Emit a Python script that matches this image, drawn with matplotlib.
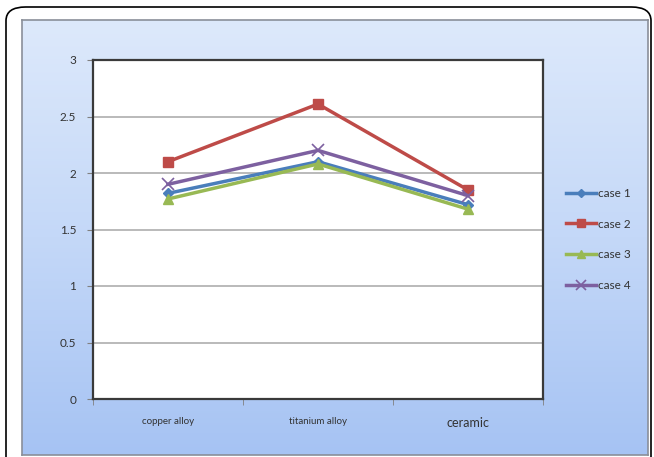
import numpy as np
import matplotlib
matplotlib.use("Agg")
import matplotlib.pyplot as plt
from matplotlib.patches import FancyBboxPatch
from matplotlib.colors import LinearSegmentedColormap

categories = ["copper alloy", "titanium alloy", "ceramic"]
case1 = [1.82, 2.10, 1.72]
case2 = [2.10, 2.61, 1.85]
case3 = [1.77, 2.08, 1.68]
case4 = [1.90, 2.20, 1.80]
series_names = ["case 1", "case 2", "case 3", "case 4"]
y_ticks = [0, 0.5, 1, 1.5, 2, 2.5, 3]
y_tick_labels = ["0", "0.5", "1", "1.5", "2", "2.5", "3"]

plt.rcParams["font.family"] = ["Lato", "DejaVu Sans"]

W, H = 654, 457
fig = plt.figure(figsize=(W / 100, H / 100), dpi=100)
fig.patch.set_facecolor("white")

def fx(px):
    return px / W

def fy(py):
    return 1 - py / H

# rounded outer frame
frame = FancyBboxPatch((fx(6), fy(480)), fx(645), fy(7) - fy(480),
                       boxstyle="round,pad=0,rounding_size=0.03",
                       transform=fig.transFigure, facecolor="white",
                       edgecolor="black", linewidth=1.2, zorder=0)
fig.patches.append(frame)

# gradient chart panel
bg = fig.add_axes([fx(22), fy(455), fx(626), fy(20) - fy(455)], zorder=1)
cmap = LinearSegmentedColormap.from_list("panel", ["#dde9fb", "#c4d8f8", "#a6c3f3"])
grad = np.linspace(0, 1, 256).reshape(-1, 1)
bg.imshow(grad, aspect="auto", cmap=cmap, extent=[0, 1, 1, 0])
bg.set_xlim(0, 1)
bg.set_ylim(1, 0)
bg.set_xticks([])
bg.set_yticks([])
for s in bg.spines.values():
    s.set_color("#8a8f99")
    s.set_linewidth(1.2)

# plot area
ax = fig.add_axes([fx(93), fy(399), fx(450), fy(60) - fy(399)], zorder=2)
ax.set_facecolor("white")
x = np.arange(len(categories)) + 0.5

styles = [
    dict(color="#4a7ebb", marker="D", markersize=5),
    dict(color="#be4b48", marker="s", markersize=7.5),
    dict(color="#98b954", marker="^", markersize=7),
    dict(color="#7d60a0", marker="x", markersize=8, markeredgewidth=1.2),
]
handles = []
for vals, name, st in zip([case1, case2, case3, case4], series_names, styles):
    h, = ax.plot(x, vals, linewidth=2.5, label=name, zorder=3, **st)
    handles.append(h)

ax.set_xlim(0, 3)
ax.set_ylim(0, 3)
ax.set_yticks(y_ticks)
ax.set_yticklabels(y_tick_labels, fontsize=8.5, color="#333333")
ax.set_xticks(x)
ax.set_xticklabels(categories, fontsize=7, color="#333333")
ax.get_xticklabels()[2].set_fontsize(9)
ax.set_xticks([0, 1, 2, 3], minor=True)
ax.tick_params(axis="x", which="major", length=0, pad=13)
ax.tick_params(axis="x", which="minor", length=4, color="#808080")
ax.tick_params(axis="y", length=4, color="#808080", pad=8)
ax.yaxis.grid(True, color="#b4b4b4", linewidth=1.3)
ax.set_axisbelow(True)
for s in ax.spines.values():
    s.set_color("#3a3a3a")
    s.set_linewidth(1.6)

leg = fig.legend(handles=handles, loc="upper left",
                 bbox_to_anchor=(fx(561), fy(183)), frameon=False,
                 fontsize=8.5, handlelength=2.6, handletextpad=0.1,
                 labelspacing=1.68, borderaxespad=0, markerscale=0.85)
for t in leg.get_texts():
    t.set_color("#333333")

fig.savefig("out.png", dpi=100)
